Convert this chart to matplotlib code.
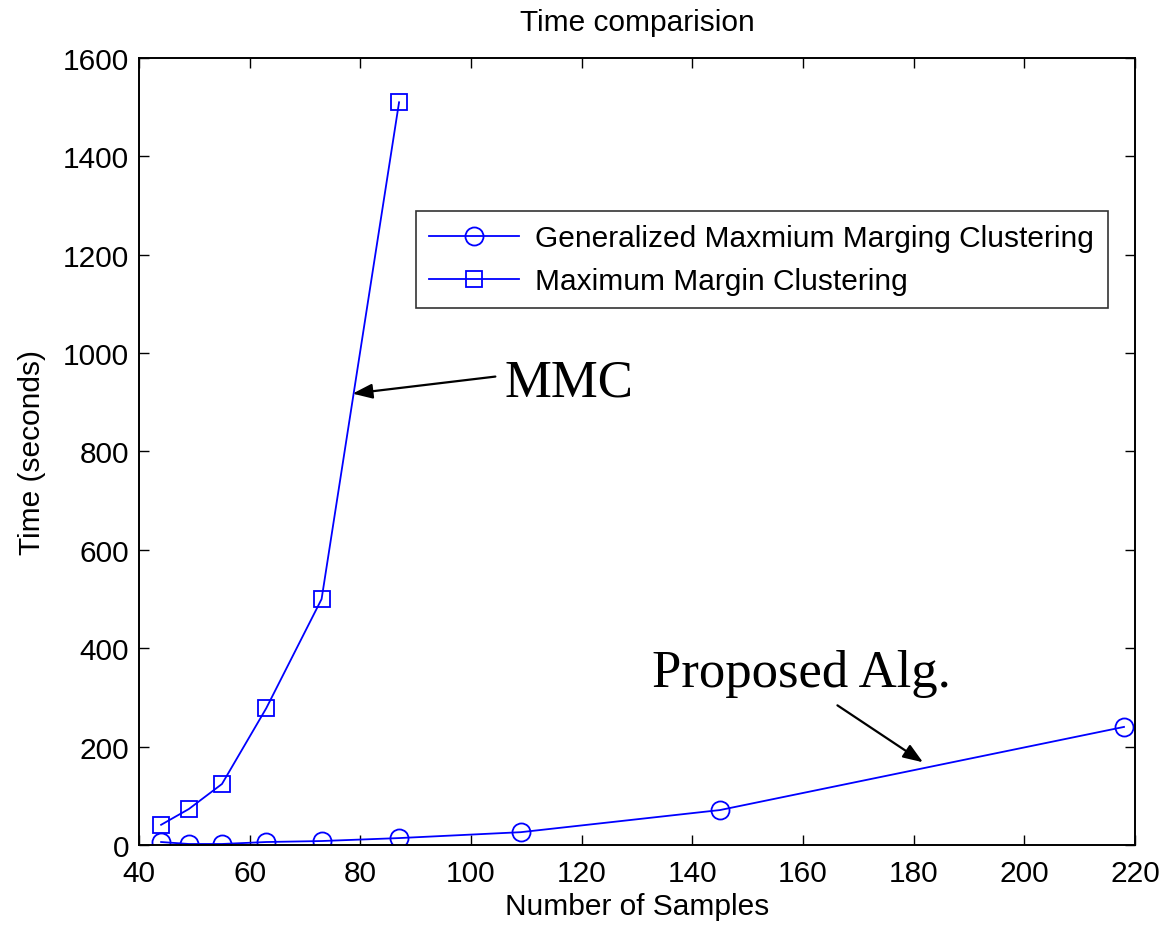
import matplotlib
matplotlib.use("Agg")
import matplotlib.pyplot as plt

plt.rcParams['font.family'] = ['Liberation Sans', 'DejaVu Sans']

samples_gmmc = [44, 49, 55, 63, 73, 87, 109, 145, 218]
time_gmmc = [6, 2, 2, 6, 8, 14, 26, 71, 240]
samples_mmc = [44, 49, 55, 63, 73, 87]
time_mmc = [41, 73, 124, 278, 500, 1510]
xticks = [40, 60, 80, 100, 120, 140, 160, 180, 200, 220]
yticks = [0, 200, 400, 600, 800, 1000, 1200, 1400, 1600]

fig = plt.figure(figsize=(11.62, 9.28), dpi=100)
ax = fig.add_axes([0.1196, 0.0884, 0.8572, 0.848])

ax.plot(samples_gmmc, time_gmmc, color='#0000ff', lw=1.3, marker='o', ms=13,
        mfc='none', mec='#0000ff', mew=1.3, label='Generalized Maxmium Marging Clustering')
ax.plot(samples_mmc, time_mmc, color='#0000ff', lw=1.3, marker='s', ms=11.5,
        mfc='none', mec='#0000ff', mew=1.3, label='Maximum Margin Clustering')

ax.set_xlim(40, 220)
ax.set_ylim(0, 1600)
ax.set_xticks(xticks)
ax.set_yticks(yticks)
ax.tick_params(axis='both', direction='in', length=7, width=1, labelsize=21.5, top=True, right=True)
ax.tick_params(axis='x', pad=10)
ax.tick_params(axis='y', pad=7)
for s in ax.spines.values():
    s.set_linewidth(1.4)

ax.set_xlabel('Number of Samples', fontsize=21.5, labelpad=4)
ax.set_ylabel('Time (seconds)', fontsize=21.5, labelpad=12)
ax.set_title('Time comparision', fontsize=21.5, pad=20)

leg = ax.legend(loc='upper left', bbox_to_anchor=(0.278, 0.806), fontsize=21.5,
                frameon=True, fancybox=False, borderaxespad=0, handlelength=3.0,
                borderpad=0.45, labelspacing=0.5, handletextpad=0.55)
leg.get_frame().set_edgecolor('black')
leg.get_frame().set_linewidth(1.2)

ax.annotate('', xy=(78.1, 917), xytext=(104.9, 953),
            arrowprops=dict(arrowstyle='-|>,head_length=1.2,head_width=0.45', color='black', lw=1.6))
ax.text(106.1, 941, 'MMC', family=['Liberation Serif'], fontsize=38, va='center', ha='left')

ax.annotate('', xy=(182.1, 165), xytext=(165.8, 287),
            arrowprops=dict(arrowstyle='-|>,head_length=1.2,head_width=0.45', color='black', lw=1.6))
ax.text(132.7, 323, 'Proposed Alg.', family=['Liberation Serif'], fontsize=38, va='baseline', ha='left')

fig.savefig('out.png', dpi=100)
